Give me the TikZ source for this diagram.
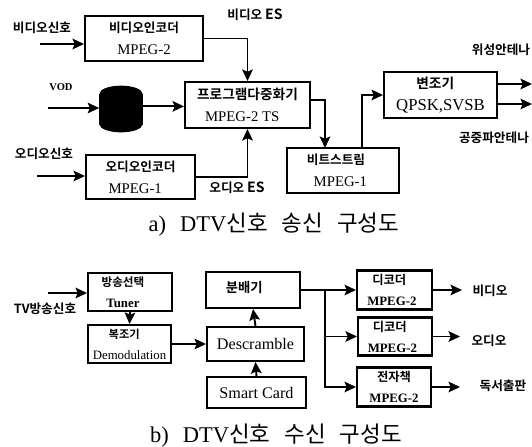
\documentclass[tikz,border=0pt]{standalone}
\usepackage{fontspec}
\setmainfont{Liberation Serif}
\newfontfamily\cjk{Noto Sans CJK KR}[BoldFont={Noto Sans CJK KR Bold}]
\usetikzlibrary{arrows.meta}
\newcommand{\kor}[2]{{\cjk\bfseries\fontsize{#1}{8}\selectfont #2}}
\tikzset{
  block/.style={draw, rectangle, line width=1.15pt, inner sep=0pt, align=center, font=\fontsize{8.4}{12.5}\selectfont},
  smallblock/.style={block, font=\fontsize{7.3}{12}\selectfont},
  bigblock/.style={block, font=\fontsize{9.2}{12}\selectfont},
  link/.style={->, line width=1.1pt},
  tag/.style={font=\cjk\bfseries\fontsize{7.2}{8}\selectfont, inner sep=0pt},
  caption/.style={font=\fontsize{12.8}{14}\selectfont, inner sep=0pt}
}
\begin{document}
\begin{tikzpicture}[>={Stealth[length=6.5pt,width=6pt,inset=1.2pt]}, x=0.02cm, y=-0.02cm]
\useasboundingbox (0,0) rectangle (532,447);

% transmit side
\node[block, minimum width=2.36cm, minimum height=0.9cm] (venc) at (144,38.5) {\kor{7.2}{비디오인코더}\\MPEG-2};
\node[block, minimum width=2.5cm, minimum height=0.92cm] (mux) at (247.5,105) {\kor{7.8}{프로그램다중화기}\\\kern-6pt MPEG-2 TS};
\node[block, minimum width=2.18cm, minimum height=0.88cm] (aenc) at (140.5,177) {\kor{7.2}{오디오인코더}\\\kern-6pt MPEG-1};
\node[block, minimum width=2.24cm, minimum height=0.9cm] (bits) at (343,170.5) {\kern-8pt\kor{7.2}{비트스트림}\\\kern-3pt MPEG-1};
\node[block, minimum width=2.26cm, minimum height=0.92cm] (mod) at (440.5,95) {\kern-6pt\kor{7.8}{변조기}\\\fontsize{9.5}{13}\selectfont QPSK,SVSB};
\node[draw, fill=black, minimum width=0.86cm, minimum height=0.6cm, inner sep=0pt] (vod) at (121,109) {};
\fill (vod.north) ellipse [x radius=0.43cm, y radius=0.16cm];
\fill (vod.south) ellipse [x radius=0.43cm, y radius=0.16cm];

\node[tag] (vsig) at (42,28) {비디오신호};
\node[tag] (ves) at (255,15) {비디오 \fontsize{8}{8}\selectfont ES};
\node[font=\bfseries\fontsize{6}{8}\selectfont, inner sep=0pt] (vodlabel) at (61,87) {VOD};
\node[tag] (asig) at (44,154) {오디오신호};
\node[tag] (aes) at (237,188) {오디오 \fontsize{8}{8}\selectfont ES};
\node[tag] (sat) at (501,50) {위성안테나};
\node[tag] (air) at (494,138) {공중파안테나};
\node[caption] (capa) at (274,225) {\spaceskip=8pt a) DTV{\cjk 신호 송신 구성도}};

\coordinate (vin) at (40,44);
\coordinate (vodin) at (48,108);
\coordinate (ain) at (37,176);
\coordinate (bitsin) at (325,148);
\coordinate (bitsout) at (362,148);
\coordinate (modtop) at (497,84);
\coordinate (modlow) at (497,104);
\coordinate (sattip) at (532,84);
\coordinate (airtip) at (532,104);

\draw[link] (vin) -- (vin -| venc.west);
\draw[link] (venc.east) -| (mux.north);
\draw[link] (vodin) -- (vodin -| vod.west);
\draw[link] ([yshift=1.5pt]vod.east) -- ([yshift=1.5pt]vod.east -| mux.west);
\draw[link] (ain) -- (ain -| aenc.west);
\draw[link] (aenc.east) -| (mux.south);
\draw[link] ([yshift=2.8pt]mux.east) -| (bitsin);
\draw[link] (bitsout) |- (mod.west);
\draw[link] (modtop) -- (sattip);
\draw[link] (modlow) -- (airtip);

% receive side
\node[smallblock, minimum width=1.68cm, minimum height=0.76cm] (tuner) at (130,292) {\kern-8pt\kor{6.6}{방송선택}\\\kern-8pt\bfseries Tuner};
\node[smallblock, minimum width=1.66cm, minimum height=0.76cm] (demod) at (129.5,344) {\kern-6pt\kor{6.4}{복조기}\\Demodulation};
\node[block, minimum width=1.88cm, minimum height=0.72cm] (split) at (253,290) {\kern-10pt\raisebox{3pt}{\kor{7.6}{분배기}}};
\node[bigblock, minimum width=1.94cm, minimum height=0.68cm] (desc) at (255.5,344) {Descramble};
\node[bigblock, minimum width=1.98cm, minimum height=0.62cm] (card) at (256.5,392.5) {Smart Card};
\node[smallblock, minimum width=1.5cm, minimum height=0.78cm] (dec1) at (394.5,290) {\kern-6pt\kor{7}{디코더}\\\kern-3pt\bfseries MPEG-2};
\node[smallblock, minimum width=1.48cm, minimum height=0.76cm] (dec2) at (395,336.5) {\kern-6pt\kor{7}{디코더}\\\kern-3pt\bfseries MPEG-2};
\node[smallblock, minimum width=1.48cm, minimum height=0.78cm] (epub) at (394,387) {\kor{7}{전자책}\\\bfseries MPEG-2};

\node[tag] (tvsig) at (45,309) {\bfseries TV방송신호};
\node[tag] (video) at (490,291) {비디오};
\node[tag] (audio) at (489,341) {오디오};
\node[tag] (book) at (503,386) {독서출판};
\node[caption] (capb) at (276,436) {\spaceskip=8pt b) DTV{\cjk 신호 수신 구성도}};

\coordinate (tvin) at (48,293);
\coordinate (fork) at (325,290);
\coordinate (videotip) at (462,290);
\coordinate (audiotip) at (460,336.5);
\coordinate (booktip) at (460,387);

\draw[link] (tvin) -- (tvin -| tuner.west);
\draw[link] (tuner.south) -- (demod.north);
\draw[link] (demod.east) -- (desc.west);
\draw[link] (desc.north) -- (split.south);
\draw[link] (card.north) -- (desc.south);
\draw[link] (split.east) -- (dec1.west);
\draw[link] (fork) |- (dec2.west);
\draw[link] (fork) |- (epub.west);
\draw[link] (dec1.east) -- (videotip);
\draw[link] (dec2.east) -- (audiotip);
\draw[link] (epub.east) -- (booktip);
\end{tikzpicture}
\end{document}
